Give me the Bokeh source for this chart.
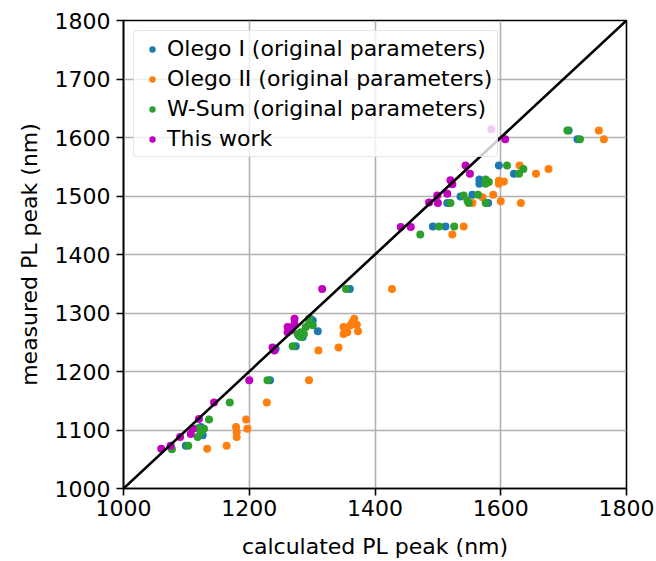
from bokeh.plotting import figure
from bokeh.models import ColumnDataSource, FixedTicker
from bokeh.embed import file_html
from bokeh.resources import INLINE

# Calculated vs. measured PL peak positions (nm)
olego1_calc = [1075, 1099, 1123, 1126, 1233, 1242, 1274, 1279, 1285, 1301, 1309, 1297,
               1360, 1492, 1512, 1515, 1536, 1555, 1566, 1566, 1568, 1580, 1597, 1621,
               1708, 1722]
olego1_meas = [1071, 1073, 1105, 1091, 1185, 1239, 1243, 1261, 1259, 1287, 1269, 1290,
               1341, 1448, 1448, 1488, 1499, 1502, 1528, 1521, 1524, 1488, 1552, 1538,
               1612, 1597]

olego2_calc = [1133, 1164, 1179, 1180, 1180, 1195, 1197, 1228, 1295, 1310, 1342, 1350,
               1350, 1356, 1361, 1367, 1364, 1373, 1371, 1427, 1523, 1541, 1555, 1571,
               1588, 1597, 1605, 1597, 1600, 1630, 1632, 1656, 1676, 1756, 1764]
olego2_meas = [1068, 1073, 1105, 1096, 1088, 1118, 1102, 1147, 1185, 1236, 1241, 1276,
               1264, 1267, 1279, 1290, 1284, 1269, 1280, 1341, 1434, 1448, 1488, 1498,
               1502, 1526, 1525, 1521, 1491, 1552, 1488, 1538, 1546, 1612, 1597]

wsum_calc = [1077, 1103, 1118, 1118, 1123, 1128, 1136, 1169, 1229, 1269, 1277, 1282,
             1282, 1287, 1290, 1295, 1295, 1301, 1354, 1472, 1502, 1526, 1520, 1541,
             1547, 1549, 1564, 1576, 1576, 1581, 1576, 1610, 1629, 1636, 1706, 1726]
wsum_meas = [1067, 1073, 1088, 1103, 1096, 1102, 1118, 1147, 1185, 1243, 1264, 1259,
             1267, 1264, 1276, 1290, 1281, 1279, 1341, 1434, 1448, 1448, 1488, 1501,
             1492, 1488, 1502, 1488, 1528, 1524, 1521, 1552, 1538, 1546, 1612, 1597]

work_calc = [1060, 1075, 1090, 1107, 1110, 1120, 1144, 1200, 1237, 1240, 1261, 1261,
             1266, 1269, 1272, 1272, 1316, 1441, 1457, 1486, 1500, 1499, 1515, 1520,
             1523, 1544, 1551, 1585, 1607]
work_meas = [1068, 1073, 1088, 1093, 1102, 1119, 1147, 1185, 1241, 1236, 1276, 1267,
             1270, 1276, 1290, 1281, 1341, 1447, 1447, 1489, 1488, 1501, 1504, 1527,
             1520, 1552, 1538, 1614, 1597]

series_names = ["Olego I (original parameters)", "Olego II (original parameters)",
                "W-Sum (original parameters)", "This work"]
series_colors = ["#1f77b4", "#ff7f0e", "#2ca02c", "#bf00bf"]

axis_lims = [1000, 1800]
x_ticks = [1000, 1200, 1400, 1600, 1800]
y_ticks = [1000, 1100, 1200, 1300, 1400, 1500, 1600, 1700, 1800]

FONT = "DejaVu Sans"
FS = "22px"

p = figure(width=656, height=561, output_backend="svg", toolbar_location=None,
           x_range=(axis_lims[0], axis_lims[1]), y_range=(axis_lims[0], axis_lims[1]),
           min_border_left=123, min_border_right=30, min_border_top=20,
           min_border_bottom=73)
p.background_fill_color = "white"
p.border_fill_color = "white"
p.outline_line_color = "black"
p.outline_line_width = 1.6

for ax in (p.xaxis, p.yaxis):
    ax.major_label_text_font = FONT
    ax.major_label_text_font_size = FS
    ax.major_label_text_color = "black"
    ax.axis_label_text_font = FONT
    ax.axis_label_text_font_size = FS
    ax.axis_label_text_font_style = "normal"
    ax.axis_label_text_color = "black"
    ax.axis_line_color = "black"
    ax.axis_line_width = 1.6
    ax.major_tick_line_color = "black"
    ax.major_tick_line_width = 1.6
    ax.major_tick_out = 7
    ax.major_tick_in = 0
    ax.minor_tick_line_color = None

p.xaxis.ticker = FixedTicker(ticks=x_ticks)
p.yaxis.ticker = FixedTicker(ticks=y_ticks)
p.xaxis.axis_label = "calculated PL peak (nm)"
p.yaxis.axis_label = "measured PL peak (nm)"
p.xaxis.major_label_standoff = 4
p.yaxis.major_label_standoff = 6
p.xaxis.axis_label_standoff = 15
p.yaxis.axis_label_standoff = 10

p.xgrid.ticker = FixedTicker(ticks=x_ticks)
p.ygrid.ticker = FixedTicker(ticks=y_ticks)
for g in (p.xgrid, p.ygrid):
    g.grid_line_color = "#b0b0b0"
    g.grid_line_width = 1.6

data = [(olego1_calc, olego1_meas), (olego2_calc, olego2_meas),
        (wsum_calc, wsum_meas), (work_calc, work_meas)]
for (xc, ym), name, col in zip(data, series_names, series_colors):
    src = ColumnDataSource(dict(x=xc, y=ym))
    p.scatter("x", "y", source=src, size=8, color=col, line_color=None,
              legend_label=name)

# y = x reference line
p.line(axis_lims, axis_lims, line_color="black", line_width=2.6)

lg = p.legend[0]
lg.location = "top_left"
lg.margin = 10
lg.padding = 5
lg.spacing = 5
lg.glyph_width = 26
lg.glyph_height = 16
lg.label_standoff = 2
lg.label_text_font = FONT
lg.label_text_font_size = FS
lg.label_text_color = "black"
lg.border_line_color = "#cccccc"
lg.border_line_width = 1.5
lg.background_fill_color = "white"
lg.background_fill_alpha = 0.8
lg.border_radius = 4

open("out.html", "w").write(file_html(p, INLINE))
